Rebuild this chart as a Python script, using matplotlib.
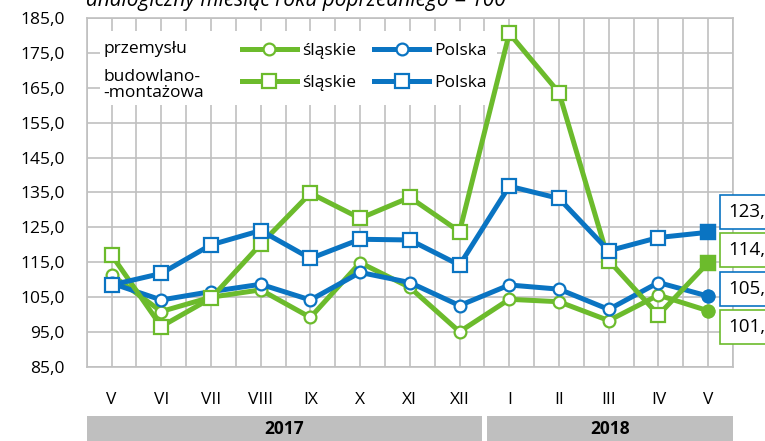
import numpy as np
import matplotlib.pyplot as plt
from matplotlib.lines import Line2D
from matplotlib.patches import Rectangle
import matplotlib.transforms as mtransforms

plt.rcParams['font.family'] = ['Open Sans', 'DejaVu Sans']

months = ['V', 'VI', 'VII', 'VIII', 'IX', 'X', 'XI', 'XII', 'I', 'II', 'III', 'IV', 'V']
years = ['2017', '2018']
year_span = [(0, 7), (8, 12)]

# produkcja sprzedana przemyslu
sl_przem = [111.4, 100.9, 105.0, 107.1, 99.2, 114.9, 107.8, 95.1, 104.4, 103.7, 98.3, 105.6, 101.1]
pl_przem = [109.0, 104.2, 106.6, 108.7, 104.2, 112.1, 109.2, 102.6, 108.5, 107.3, 101.5, 109.2, 105.3]
# budowlano-montazowa
sl_bud = [117.1, 96.6, 104.7, 120.2, 134.8, 127.6, 133.6, 123.8, 180.6, 163.6, 115.5, 99.9, 114.9]
pl_bud = [108.5, 111.8, 120.0, 124.1, 116.1, 121.6, 121.4, 114.2, 136.8, 133.3, 118.3, 122.1, 123.6]

green = '#6cbb2c'
blue = '#0a74c2'
grid_c = '#c0c0c0'

fig = plt.figure(figsize=(7.65, 4.41), dpi=100)
ax = fig.add_axes([0.1133, 0.1678, 0.8449, 0.7914])

x = np.arange(len(months))
series = [
    (sl_przem, green, 'o', 8.5),
    (pl_przem, blue, 'o', 8.5),
    (sl_bud, green, 's', 9.5),
    (pl_bud, blue, 's', 9.5),
]
handles = []
for i, (vals, col, mk, ms) in enumerate(series):
    ax.plot(x, vals, color=col, lw=3.6, marker=mk, ms=ms, mfc='white', mec=col,
            mew=1.6, zorder=4 + i, clip_on=False)
    ax.plot(x[-1:], vals[-1:], color=col, lw=0, marker=mk, ms=ms, mfc=col, mec=col,
            mew=1.6, zorder=4 + i, clip_on=False)
    handles.append(Line2D([], [], color=col, lw=3.6, marker=mk, ms=ms, mfc='white',
                          mec=col, mew=1.6))

ax.set_xlim(-0.5, 12.5)
ax.set_ylim(85, 185)
ax.set_yticks(np.arange(85, 186, 10))
ax.set_yticklabels([f'{v:.1f}'.replace('.', ',') for v in np.arange(85, 186, 10)])
ax.set_xticks(x)
ax.set_xticklabels(months)
ax.set_xticks(np.arange(-0.5, 12.6, 1), minor=True)
ax.grid(True, which='both', color=grid_c, lw=1.2, zorder=0)
ax.tick_params(axis='both', which='both', length=0, labelsize=12.5)
ax.tick_params(axis='y', pad=16)
ax.tick_params(axis='x', pad=18)
for s in ax.spines.values():
    s.set_color(grid_c)
    s.set_linewidth(1.2)

# legend area
ax.add_patch(Rectangle((0.02, 0.75), 0.615, 0.213, transform=ax.transAxes,
                       facecolor='white', edgecolor='none', zorder=2))
ax.text(0.0253, 0.911, 'przemysłu', transform=ax.transAxes, fontsize=12.5,
        va='center', ha='left', zorder=3)
ax.text(0.0253, 0.808, 'budowlano-\n-montażowa', transform=ax.transAxes, fontsize=12.5,
        va='center', ha='left', zorder=3, linespacing=1.0)
leg = ax.legend([handles[0], handles[2], handles[1], handles[3]],
                ['śląskie', 'śląskie', 'Polska', 'Polska'], ncol=2, frameon=False,
                loc='center left', bbox_to_anchor=(0.2264, 0.8596), borderpad=0,
                handlelength=3.2, handletextpad=0.3, columnspacing=1.0,
                labelspacing=0.95, fontsize=12.5)
leg.set_zorder(3)

# value labels at the right
last = [(pl_bud, blue, 129.4), (sl_bud, green, 118.5), (pl_przem, blue, 107.3), (sl_przem, green, 96.5)]
for vals, col, ypos in last:
    ax.text(12.4, ypos, f'{vals[-1]:.1f}'.replace('.', ','), fontsize=13.5, va='center',
            ha='left', zorder=10, clip_on=False,
            bbox=dict(boxstyle='square,pad=0.42', facecolor='white', edgecolor=col, lw=1.2))

# year bars
trans = mtransforms.blended_transform_factory(ax.transData, ax.transAxes)
for yr, (a, b) in zip(years, year_span):
    x0 = a - 0.5 + (0.05 if a > 0 else 0)
    x1 = b + 0.5 - (0.05 if b < 12 else 0)
    ax.add_patch(Rectangle((x0, -0.215), x1 - x0, 0.075, transform=trans,
                           facecolor='#bfbfbf', edgecolor='none', clip_on=False))
    ax.text((x0 + x1) / 2, -0.178, yr, transform=trans, ha='center', va='center',
            fontsize=12.5, fontweight='bold')

fig.text(0.113, 0.986, 'analogiczny miesiąc roku poprzedniego = 100', fontsize=15,
         style='italic', ha='left', va='baseline')

fig.savefig('out.png', dpi=100)
